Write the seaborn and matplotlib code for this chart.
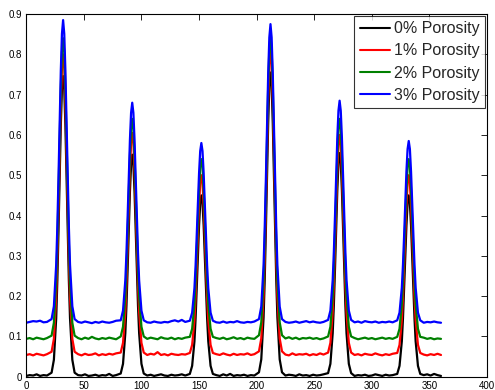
import numpy as np
import pandas as pd
import seaborn as sns
import matplotlib
matplotlib.use("Agg")
import matplotlib.pyplot as plt

# angle samples (shared by all four curves)
angle = [0, 3, 6, 9, 12, 15, 18,
         22, 24, 26, 27, 28, 29, 30, 31, 32, 33, 34, 35, 36, 37, 38, 40, 42,
         45, 48, 51, 54, 57, 60, 63, 66, 69, 72, 75, 78,
         82, 84, 86, 87, 88, 89, 90, 91, 92, 93, 94, 95, 96, 97, 98, 100, 102,
         105, 108, 111, 114, 117, 120, 123, 126, 129, 132, 135, 138,
         142, 144, 146, 147, 148, 149, 150, 151, 152, 153, 154, 155, 156, 157, 158, 160, 162,
         165, 168, 171, 174, 177, 180, 183, 186, 189, 192, 195, 198,
         202, 204, 206, 207, 208, 209, 210, 211, 212, 213, 214, 215, 216, 217, 218, 220, 222,
         225, 228, 231, 234, 237, 240, 243, 246, 249, 252, 255, 258,
         262, 264, 266, 267, 268, 269, 270, 271, 272, 273, 274, 275, 276, 277, 278, 280, 282,
         285, 288, 291, 294, 297, 300, 303, 306, 309, 312, 315, 318,
         322, 324, 326, 327, 328, 329, 330, 331, 332, 333, 334, 335, 336, 337, 338, 340, 342,
         345, 348, 351, 354, 357, 360]

p0 = [0.002, 0.004, 0.003, 0.006, 0.002, 0.004, 0.003,
      0.010, 0.042, 0.145, 0.239, 0.361, 0.495, 0.623, 0.714, 0.746, 0.714, 0.623, 0.495, 0.361, 0.239, 0.145, 0.042, 0.010,
      0.004, 0.003, 0.006, 0.002, 0.003, 0.005, 0.002, 0.004, 0.003, 0.007, 0.002, 0.004,
      0.008, 0.032, 0.108, 0.177, 0.266, 0.365, 0.459, 0.526, 0.551, 0.526, 0.459, 0.365, 0.266, 0.177, 0.108, 0.032, 0.008,
      0.003, 0.005, 0.002, 0.004, 0.006, 0.003, 0.002, 0.005, 0.003, 0.004, 0.006, 0.003,
      0.007, 0.027, 0.088, 0.145, 0.218, 0.298, 0.375, 0.430, 0.450, 0.430, 0.375, 0.298, 0.218, 0.145, 0.088, 0.027, 0.007,
      0.004, 0.002, 0.006, 0.003, 0.007, 0.002, 0.004, 0.003, 0.005, 0.002, 0.004, 0.003,
      0.011, 0.043, 0.147, 0.241, 0.364, 0.500, 0.629, 0.721, 0.755, 0.721, 0.629, 0.500, 0.364, 0.241, 0.147, 0.043, 0.011,
      0.003, 0.005, 0.004, 0.002, 0.006, 0.003, 0.004, 0.002, 0.005, 0.003, 0.004, 0.006,
      0.009, 0.032, 0.108, 0.178, 0.268, 0.368, 0.462, 0.530, 0.555, 0.530, 0.462, 0.368, 0.268, 0.178, 0.108, 0.032, 0.009,
      0.002, 0.004, 0.003, 0.005, 0.002, 0.003, 0.006, 0.004, 0.002, 0.005, 0.003, 0.004,
      0.007, 0.027, 0.088, 0.145, 0.218, 0.298, 0.375, 0.430, 0.450, 0.430, 0.375, 0.298, 0.218, 0.145, 0.088, 0.027, 0.007,
      0.004, 0.006, 0.003, 0.007, 0.004, 0.002]

p1 = [0.054, 0.056, 0.053, 0.057, 0.055, 0.053, 0.056,
      0.062, 0.094, 0.197, 0.291, 0.413, 0.547, 0.675, 0.766, 0.800, 0.766, 0.675, 0.547, 0.413, 0.291, 0.197, 0.094, 0.062,
      0.056, 0.053, 0.057, 0.054, 0.055, 0.058, 0.053, 0.056, 0.054, 0.057, 0.055, 0.058,
      0.060, 0.084, 0.160, 0.229, 0.318, 0.418, 0.512, 0.580, 0.605, 0.580, 0.512, 0.418, 0.318, 0.229, 0.160, 0.084, 0.060,
      0.054, 0.057, 0.055, 0.061, 0.054, 0.056, 0.053, 0.057, 0.055, 0.054, 0.056, 0.055,
      0.059, 0.079, 0.140, 0.196, 0.269, 0.349, 0.425, 0.480, 0.500, 0.480, 0.425, 0.349, 0.269, 0.196, 0.140, 0.079, 0.059,
      0.056, 0.054, 0.058, 0.055, 0.053, 0.057, 0.054, 0.056, 0.055, 0.058, 0.054, 0.056,
      0.063, 0.095, 0.199, 0.294, 0.417, 0.554, 0.683, 0.776, 0.810, 0.776, 0.683, 0.554, 0.417, 0.294, 0.199, 0.095, 0.063,
      0.055, 0.053, 0.058, 0.054, 0.056, 0.055, 0.057, 0.053, 0.056, 0.054, 0.058, 0.055,
      0.060, 0.084, 0.159, 0.228, 0.317, 0.415, 0.508, 0.575, 0.600, 0.575, 0.508, 0.415, 0.317, 0.228, 0.159, 0.084, 0.060,
      0.054, 0.056, 0.053, 0.057, 0.055, 0.054, 0.058, 0.055, 0.053, 0.056, 0.054, 0.057,
      0.059, 0.079, 0.140, 0.196, 0.269, 0.349, 0.425, 0.480, 0.500, 0.480, 0.425, 0.349, 0.269, 0.196, 0.140, 0.079, 0.059,
      0.055, 0.053, 0.056, 0.054, 0.057, 0.054]

p2 = [0.094, 0.096, 0.093, 0.097, 0.095, 0.093, 0.096,
      0.102, 0.134, 0.237, 0.331, 0.453, 0.587, 0.715, 0.806, 0.840, 0.806, 0.715, 0.587, 0.453, 0.331, 0.237, 0.134, 0.102,
      0.096, 0.093, 0.097, 0.094, 0.099, 0.095, 0.093, 0.096, 0.094, 0.097, 0.095, 0.093,
      0.100, 0.124, 0.199, 0.268, 0.357, 0.455, 0.548, 0.615, 0.640, 0.615, 0.548, 0.455, 0.357, 0.268, 0.199, 0.124, 0.100,
      0.094, 0.097, 0.095, 0.093, 0.098, 0.095, 0.094, 0.097, 0.093, 0.096, 0.094, 0.097,
      0.099, 0.119, 0.180, 0.236, 0.309, 0.389, 0.465, 0.520, 0.540, 0.520, 0.465, 0.389, 0.309, 0.236, 0.180, 0.119, 0.099,
      0.096, 0.094, 0.097, 0.093, 0.095, 0.098, 0.094, 0.096, 0.093, 0.097, 0.095, 0.094,
      0.103, 0.135, 0.238, 0.333, 0.455, 0.591, 0.719, 0.811, 0.845, 0.811, 0.719, 0.591, 0.455, 0.333, 0.238, 0.135, 0.103,
      0.095, 0.098, 0.094, 0.097, 0.093, 0.096, 0.095, 0.097, 0.094, 0.096, 0.093, 0.095,
      0.100, 0.124, 0.199, 0.268, 0.357, 0.455, 0.548, 0.615, 0.640, 0.615, 0.548, 0.455, 0.357, 0.268, 0.199, 0.124, 0.100,
      0.096, 0.093, 0.095, 0.097, 0.094, 0.096, 0.093, 0.095, 0.097, 0.094, 0.096, 0.094,
      0.099, 0.119, 0.180, 0.236, 0.309, 0.389, 0.465, 0.520, 0.540, 0.520, 0.465, 0.389, 0.309, 0.236, 0.180, 0.119, 0.099,
      0.097, 0.094, 0.096, 0.093, 0.095, 0.094]

p3 = [0.134, 0.136, 0.138, 0.137, 0.139, 0.135, 0.136,
      0.143, 0.175, 0.278, 0.373, 0.495, 0.631, 0.759, 0.851, 0.885, 0.851, 0.759, 0.631, 0.495, 0.373, 0.278, 0.175, 0.143,
      0.136, 0.134, 0.137, 0.135, 0.133, 0.136, 0.134, 0.137, 0.135, 0.134, 0.136, 0.139,
      0.140, 0.164, 0.239, 0.308, 0.397, 0.495, 0.588, 0.655, 0.680, 0.655, 0.588, 0.495, 0.397, 0.308, 0.239, 0.164, 0.140,
      0.135, 0.134, 0.137, 0.135, 0.134, 0.136, 0.135, 0.138, 0.140, 0.137, 0.141, 0.136,
      0.139, 0.159, 0.220, 0.276, 0.349, 0.429, 0.505, 0.560, 0.580, 0.560, 0.505, 0.429, 0.349, 0.276, 0.220, 0.159, 0.139,
      0.135, 0.134, 0.137, 0.134, 0.136, 0.135, 0.138, 0.135, 0.134, 0.136, 0.135, 0.137,
      0.143, 0.174, 0.276, 0.370, 0.490, 0.624, 0.751, 0.842, 0.875, 0.842, 0.751, 0.624, 0.490, 0.370, 0.276, 0.174, 0.143,
      0.136, 0.134, 0.135, 0.137, 0.134, 0.136, 0.138, 0.135, 0.137, 0.135, 0.134, 0.136,
      0.141, 0.164, 0.240, 0.310, 0.399, 0.499, 0.593, 0.660, 0.685, 0.660, 0.593, 0.499, 0.399, 0.310, 0.240, 0.164, 0.141,
      0.135, 0.137, 0.134, 0.138, 0.136, 0.135, 0.137, 0.134, 0.136, 0.135, 0.137, 0.135,
      0.140, 0.159, 0.221, 0.278, 0.351, 0.432, 0.509, 0.565, 0.585, 0.565, 0.509, 0.432, 0.351, 0.278, 0.221, 0.159, 0.140,
      0.134, 0.136, 0.135, 0.137, 0.135, 0.134]

labels = ["0% Porosity", "1% Porosity", "2% Porosity", "3% Porosity"]
colors = ["#000000", "#ff0000", "#008000", "#0000ff"]

xticks = [0, 50, 100, 150, 200, 250, 300, 350, 400]
yticks = [0, 0.1, 0.2, 0.3, 0.4, 0.5, 0.6, 0.7, 0.8, 0.9]
ytick_labels = ["0", "0.1", "0.2", "0.3", "0.4", "0.5", "0.6", "0.7", "0.8", "0.9"]

frames = []
for lab, vals in zip(labels, [p0, p1, p2, p3]):
    frames.append(pd.DataFrame({"angle": angle, "val": vals, "series": lab}))
df = pd.concat(frames, ignore_index=True)

sns.set_style("white")
plt.rcParams["font.family"] = ["Liberation Sans", "DejaVu Sans"]

fig = plt.figure(figsize=(4.95, 3.9), dpi=100)
ax = fig.add_axes([0.053, 0.034, 0.931, 0.930])

sns.lineplot(data=df, x="angle", y="val", hue="series", hue_order=labels,
             palette=colors, sort=False, estimator=None, linewidth=1.6, ax=ax)

ax.set_xlim(0, 400)
ax.set_ylim(0, 0.9)
ax.set_xticks(xticks)
ax.set_xticklabels([str(t) for t in xticks])
ax.set_yticks(yticks)
ax.set_yticklabels(ytick_labels)
ax.set_xlabel("")
ax.set_ylabel("")
ax.tick_params(direction="in", length=4, width=0.6, labelsize=7, colors="black",
               top=True, right=True, pad=3)
for s in ax.spines.values():
    s.set_visible(True)
    s.set_color("black")
    s.set_linewidth(0.8)

leg = ax.legend(loc="upper right", fontsize=11.5, frameon=True, fancybox=False,
                borderaxespad=0.1, handlelength=1.9, handletextpad=0.25,
                labelspacing=0.45, borderpad=0.35)
leg.get_frame().set_edgecolor("black")
leg.get_frame().set_linewidth(0.8)
for h in leg.get_lines():
    h.set_linewidth(1.5)

fig.savefig("out.png", dpi=100)
